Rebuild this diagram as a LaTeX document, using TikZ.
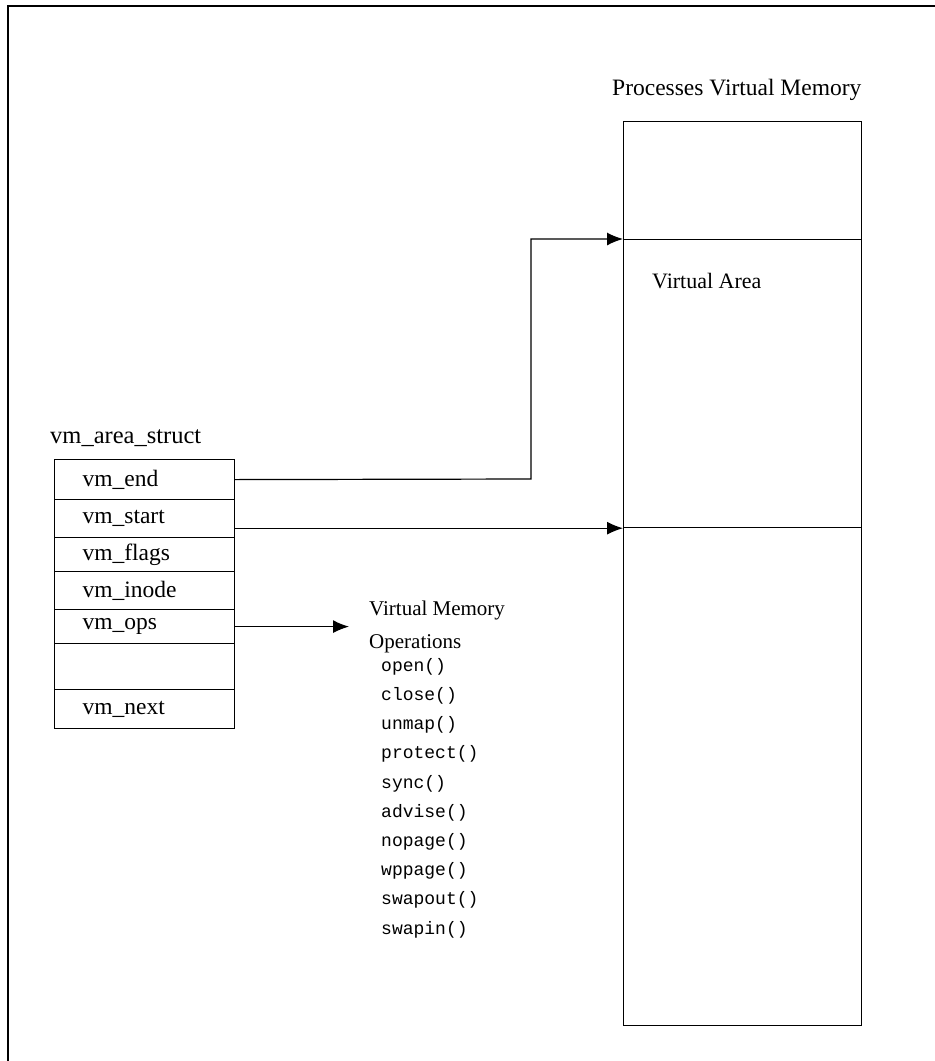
\documentclass[tikz,border=0pt]{standalone}
\usepackage{fontspec}
\setmainfont{Liberation Serif}
\newfontfamily\monofam{Liberation Mono}
\usetikzlibrary{arrows.meta,calc}
\tikzset{
  ln/.style={line width=1.2pt, black},
  row/.style={draw, ln, minimum width=180pt, text width=124pt, inner xsep=28pt, inner ysep=0pt, align=left, anchor=north west, font=\fontsize{23.5}{26}\selectfont},
  vmbox/.style={draw, ln, minimum width=238pt, inner sep=0pt, anchor=north west},
  lbl/.style={inner sep=0pt, font=\fontsize{21}{24}\selectfont},
  arr/.style={ln, -{Latex[length=16pt,width=13pt]}},
}
\begin{document}
\begin{tikzpicture}[x=1pt,y=-1pt]
\useasboundingbox (0,0) rectangle (935,1061);
% outer frame (top and left edges)
\draw[line width=1.5pt] (8,1061) -- (8,6) -- (935,6);

% struct
\node[lbl, anchor=base west, font=\fontsize{24.5}{26}\selectfont] (sname) at (50,443) {vm\_area\_struct};
\node[row, minimum height=40pt] (vmend) at (54,459) {vm\_end};
\node[row, minimum height=38pt] (vmstart) at (54,499) {vm\_start};
\node[row, minimum height=34pt] (vmflags) at (54,537) {vm\_flags};
\node[row, minimum height=38pt] (vminode) at (54,571) {vm\_inode};
\node[row, minimum height=34pt] (vmops) at (54,609) {vm\_ops};
\node[row, minimum height=46pt] (vmempty) at (54,643) {};
\node[row, minimum height=39pt] (vmnext) at (54,689) {vm\_next};

% process virtual memory
\node[lbl, anchor=base west, font=\fontsize{23.5}{26}\selectfont] (ptitle) at (612,95) {Processes Virtual Memory};
\node[vmbox, minimum height=118pt] (vmtop) at (623,121) {};
\node[vmbox, minimum height=288pt] (varea) at (623,239) {};
\node[vmbox, minimum height=498pt] (vmbot) at (623,527) {};
\node[lbl, anchor=base west, font=\fontsize{22}{26}\selectfont] (valbl) at (652,288) {Virtual Area};

% operations
\node[lbl, anchor=west, align=left, font=\fontsize{21}{33}\selectfont] (ops) at (369,627) {Virtual Memory\\Operations};
\node[inner sep=0pt, anchor=north west, align=left, font=\monofam\fontsize{18}{29.2}\selectfont] (funcs) at (381,658)
  {open()\\close()\\unmap()\\protect()\\sync()\\advise()\\nopage()\\wppage()\\swapout()\\swapin()};

% connectors
\coordinate (bend) at (531,479);
\draw[arr] (vmend.east) -- (bend) |- (varea.north west);
\draw[arr] (vmstart.east |- varea.south west) -- (varea.south west);
\draw[arr] (vmops.east) -- ($(vmops.east -| ops.west)+(-20pt,0)$);
\end{tikzpicture}
\end{document}
